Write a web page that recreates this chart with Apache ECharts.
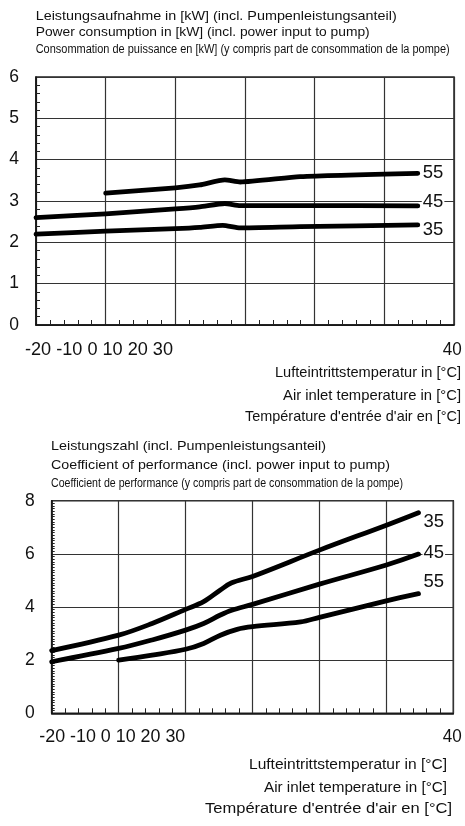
<!DOCTYPE html>
<html>
<head>
<meta charset="utf-8">
<script src="https://cdn.jsdelivr.net/npm/echarts@6/dist/echarts.min.js"></script>
<style>
html,body{margin:0;padding:0;background:#fff;}
#c{width:465px;height:826px;}
</style>
</head>
<body>
<div id="c"></div>
<script>
// ---- Data ----
const seriesNames = ['35', '45', '55'];
const xTickLabels = ['-20', '-10', '0', '10', '20', '30'];
const xLastLabel = '40';

// Power consumption [kW]
const pwrX35 = [-20, -10, 0, 3.5, 6.8, 9.3, 17.9, 34.8];
const pwrY35 = [2.20, 2.27, 2.33, 2.36, 2.41, 2.35, 2.38, 2.42];
const pwrX45 = [-20, -10, 0, 3.5, 7.1, 9.3, 17.9, 34.8];
const pwrY45 = [2.60, 2.69, 2.81, 2.86, 2.94, 2.89, 2.89, 2.88];
const pwrX55 = [-10, 0, 3.5, 7.1, 9.3, 17.9, 34.8];
const pwrY55 = [3.19, 3.32, 3.39, 3.51, 3.46, 3.59, 3.67];

// Coefficient of performance
const copX35 = [-20, -10, -5, 0, 2.7, 5.2, 6.9, 10, 20, 30, 34.8];
const copY35 = [2.36, 2.94, 3.38, 3.91, 4.20, 4.64, 4.91, 5.15, 6.14, 7.08, 7.55];
const copX45 = [-20, -10, -5, 0, 2.7, 5.2, 6.9, 10, 20, 30, 34.8];
const copY45 = [1.94, 2.44, 2.76, 3.13, 3.38, 3.70, 3.88, 4.10, 4.86, 5.58, 5.99];
const copX55 = [-10, -5, 0, 2.7, 5.2, 7.7, 10, 17.2, 20, 30, 34.8];
const copY55 = [2.00, 2.19, 2.41, 2.63, 2.94, 3.16, 3.26, 3.44, 3.61, 4.23, 4.50];

// ---- Texts ----
const topTitle = ['Leistungsaufnahme in [kW] (incl. Pumpenleistungsanteil)',
  'Power consumption in [kW] (incl. power input to pump)',
  'Consommation de puissance en [kW] (y compris part de consommation de la pompe)'];
const botTitle = ['Leistungszahl (incl. Pumpenleistungsanteil)',
  'Coefficient of performance (incl. power input to pump)',
  'Coefficient de performance (y compris part de consommation de la pompe)'];
const xTitle = ['Lufteintrittstemperatur in [°C]', 'Air inlet temperature in [°C]',
  'Température d\'entrée d\'air en [°C]'];

const FONT = '"Liberation Sans", Arial, sans-serif';
const INK = '#111';
const zip = (xs, ys) => xs.map((x, i) => [x, ys[i]]);

const mctx = document.createElement('canvas').getContext('2d');
function fitText(text, x, y, w, size, align) {
  const font = size + 'px ' + FONT;
  mctx.font = font;
  const m = mctx.measureText(text).width;
  return { type: 'text', x: x, y: y, scaleX: w / m, silent: true,
    style: { text: text, font: font, fill: INK, textAlign: align || 'left', textVerticalAlign: 'middle' } };
}

const graphics = [
  fitText(topTitle[0], 35.7, 16.7, 361, 13.5),
  fitText(topTitle[1], 35.7, 32.7, 334, 13.5),
  fitText(topTitle[2], 35.7, 49.3, 414, 12.5),
  fitText(xTickLabels.join(' '), 25, 350, 148, 17.5),
  fitText(xLastLabel, 461.7, 350, 19, 17.5, 'right'),
  fitText(xTitle[0], 461, 373.3, 186, 15, 'right'),
  fitText(xTitle[1], 461, 396, 178, 15, 'right'),
  fitText(xTitle[2], 461, 417.3, 216, 15, 'right'),
  fitText(botTitle[0], 51, 446.7, 275, 13.5),
  fitText(botTitle[1], 51, 465, 339, 13.5),
  fitText(botTitle[2], 51, 484, 352, 12.5),
  fitText(xTickLabels.join(' '), 39.3, 737.3, 146, 17.5),
  fitText(xLastLabel, 461.7, 737.3, 19, 17.5, 'right'),
  fitText(xTitle[0], 447, 765, 198, 15.5, 'right'),
  fitText(xTitle[1], 447, 787.3, 183, 15.5, 'right'),
  fitText(xTitle[2], 452, 809, 247, 15.5, 'right')
];

function xAxisCfg(gi) {
  return {
    type: 'value', gridIndex: gi, min: -20, max: 40, interval: 10,
    axisLabel: { show: false },
    axisTick: { show: false, inside: true },
    minorTick: { show: true, splitNumber: 5, length: 5, lineStyle: { color: '#222', width: 1 } },
    axisLine: { show: true, onZero: false, lineStyle: { color: '#111', width: 1.5 } },
    splitLine: { show: true, lineStyle: { color: '#333', width: 1.2 } }
  };
}
function yAxisCfg(gi, max, interval, minorSplit, minorLen) {
  return {
    type: 'value', gridIndex: gi, min: 0, max: max, interval: interval,
    axisLabel: { show: true, fontSize: 17.5, color: INK, fontFamily: FONT, margin: 17 },
    axisTick: { show: false, inside: true },
    minorTick: { show: true, splitNumber: minorSplit, length: minorLen, lineStyle: { color: '#222', width: 1 } },
    axisLine: { show: true, onZero: false, lineStyle: { color: '#111', width: 1.5 } },
    splitLine: { show: true, lineStyle: { color: '#333', width: 1.2 } }
  };
}
function lineSeries(name, gi, data, smooth, off) {
  return {
    type: 'line', name: name, xAxisIndex: gi, yAxisIndex: gi, data: data,
    showSymbol: false, symbol: 'none', smooth: smooth,
    lineStyle: { color: '#000', width: 4.8, cap: 'round', join: 'round' },
    endLabel: {
      show: true, formatter: name, distance: 4, offset: off,
      fontSize: 18.5, fontFamily: FONT, color: INK,
      backgroundColor: '#fff', padding: [0, 1]
    },
    animation: false, silent: true, z: 5
  };
}

const chart = echarts.init(document.getElementById('c'), null, { renderer: 'canvas' });
chart.setOption({
  backgroundColor: '#fff',
  animation: false,
  grid: [
    { left: 36, top: 77, width: 418, height: 248, show: true, borderColor: '#222', borderWidth: 1.5, backgroundColor: '#fff' },
    { left: 51.7, top: 500.7, width: 401.6, height: 212.6, show: true, borderColor: '#222', borderWidth: 1.5, backgroundColor: '#fff' }
  ],
  xAxis: [xAxisCfg(0), xAxisCfg(1)],
  yAxis: [yAxisCfg(0, 6, 1, 5, 4), yAxisCfg(1, 8, 2, 20, 3)],
  series: [
    lineSeries(seriesNames[0], 0, zip(pwrX35, pwrY35), 0.2, [0, 5]),
    lineSeries(seriesNames[1], 0, zip(pwrX45, pwrY45), 0.2, [0, -4]),
    lineSeries(seriesNames[2], 0, zip(pwrX55, pwrY55), 0.2, [0, 0]),
    lineSeries(seriesNames[0], 1, zip(copX35, copY35), 0.35, [0, 9.5]),
    lineSeries(seriesNames[1], 1, zip(copX45, copY45), 0.35, [0, -1]),
    lineSeries(seriesNames[2], 1, zip(copX55, copY55), 0.35, [0, -12])
  ],
  graphic: graphics
});
</script>
</body>
</html>
